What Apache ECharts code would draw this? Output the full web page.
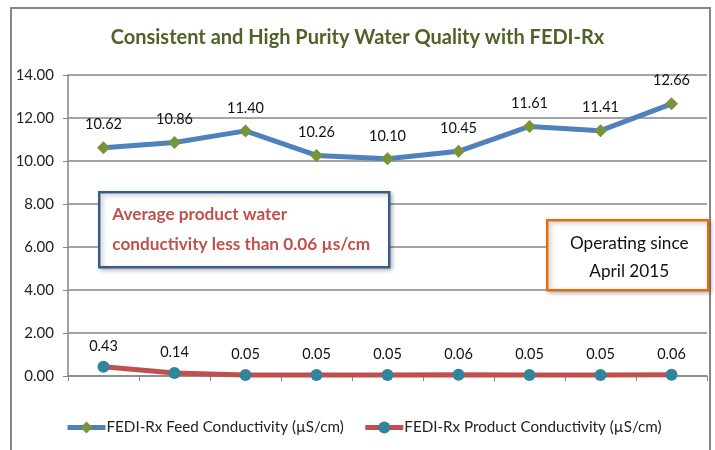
<!DOCTYPE html>
<html>
<head>
    <meta charset="utf-8">
    <script src="https://cdn.jsdelivr.net/npm/echarts@6/dist/echarts.min.js"></script>
    <style>
        html, body { margin: 0; padding: 0; background: #fff; }
    </style>
</head>
<body>
    <div id="main" style="width: 715px; height: 450px"></div>
    <script type="text/javascript">
        var categories = ['1', '2', '3', '4', '5', '6', '7', '8', '9'];
        var feedValues = [10.62, 10.86, 11.40, 10.26, 10.10, 10.45, 11.61, 11.41, 12.66];
        var productValues = [0.43, 0.14, 0.05, 0.05, 0.05, 0.06, 0.05, 0.05, 0.06];
        var yTicks = [0, 2, 4, 6, 8, 10, 12, 14];

        var font = 'Lato, "Open Sans", sans-serif';

        var myChart = echarts.init(document.getElementById('main'));
        var option = {
            animation: false,
            title: {
                text: 'Consistent and High Purity Water Quality with FEDI-Rx',
                left: 'center',
                top: 23,
                textStyle: {
                    fontFamily: font,
                    fontSize: 20,
                    fontWeight: 'bold',
                    color: '#4f6228'
                }
            },
            legend: {
                bottom: 10,
                left: 60,
                itemWidth: 38,
                itemHeight: 15,
                itemGap: 19,
                lineStyle: { width: 5 },
                textStyle: { fontFamily: font, fontSize: 15.2, color: '#222', padding: [0, 0, 0, -4] },
                data: ['FEDI-Rx Feed Conductivity (µS/cm)', 'FEDI-Rx Product Conductivity (µS/cm)']
            },
            grid: { left: 68, right: 8, top: 75, bottom: 74 },
            xAxis: {
                type: 'category',
                data: categories,
                boundaryGap: true,
                axisLine: { lineStyle: { color: '#868686', width: 1.5 } },
                axisTick: { show: true, length: 5, lineStyle: { color: '#868686' } },
                axisLabel: { show: false }
            },
            yAxis: {
                type: 'value',
                min: yTicks[0],
                max: yTicks[yTicks.length - 1],
                interval: 2,
                axisLine: { show: true, lineStyle: { color: '#868686', width: 1.5 } },
                axisTick: { show: true, length: 5, lineStyle: { color: '#868686' } },
                splitLine: { lineStyle: { color: '#868686', width: 1.5 } },
                axisLabel: {
                    margin: 14,
                    fontFamily: font,
                    fontSize: 15,
                    color: '#222',
                    formatter: function (v) { return v.toFixed(2); }
                }
            },
            series: [
                {
                    name: 'FEDI-Rx Feed Conductivity (µS/cm)',
                    type: 'line',
                    data: feedValues,
                    symbol: 'diamond',
                    symbolSize: 13,
                    itemStyle: { color: '#77933c' },
                    lineStyle: { color: '#4f81bd', width: 5 },
                    label: {
                        show: true,
                        position: 'top',
                        distance: 9,
                        fontFamily: font,
                        fontSize: 14.5,
                        color: '#111',
                        formatter: function (p) { return p.value.toFixed(2); }
                    }
                },
                {
                    name: 'FEDI-Rx Product Conductivity (µS/cm)',
                    type: 'line',
                    data: productValues,
                    symbol: 'circle',
                    symbolSize: 12,
                    itemStyle: { color: '#31849b' },
                    lineStyle: { color: '#c0504d', width: 5 },
                    label: {
                        show: true,
                        position: 'top',
                        distance: 7,
                        fontFamily: font,
                        fontSize: 14.5,
                        color: '#111',
                        formatter: function (p) { return p.value.toFixed(2); }
                    }
                }
            ],
            graphic: [
                {
                    type: 'rect',
                    z: 100,
                    shape: { x: 11, y: 8, width: 699, height: 460 },
                    style: { fill: 'none', stroke: '#868686', lineWidth: 2 },
                    silent: true
                },
                {
                    type: 'group',
                    z: 100,
                    left: 98, top: 191,
                    children: [
                        {
                            type: 'rect',
                            z: 100,
                            shape: { x: 0, y: 0, width: 290, height: 75 },
                            style: {
                                fill: '#fff', stroke: '#385d8a', lineWidth: 2.5,
                                shadowBlur: 4, shadowColor: 'rgba(0,0,0,0.25)', shadowOffsetX: 2, shadowOffsetY: 2
                            }
                        },
                        {
                            type: 'text',
                            z: 101,
                            x: 13, y: 7,
                            style: {
                                text: 'Average product water\nconductivity less than 0.06 µs/cm',
                                fontFamily: font, fontSize: 17.2, fontWeight: 'bold',
                                fill: '#c0504d', lineHeight: 30
                            }
                        }
                    ]
                },
                {
                    type: 'group',
                    z: 100,
                    left: 546, top: 219,
                    children: [
                        {
                            type: 'rect',
                            z: 100,
                            shape: { x: 0, y: 0, width: 161, height: 70 },
                            style: {
                                fill: '#fff', stroke: '#e46c0a', lineWidth: 2.5,
                                shadowBlur: 4, shadowColor: 'rgba(0,0,0,0.25)', shadowOffsetX: 2, shadowOffsetY: 2
                            }
                        },
                        {
                            type: 'text',
                            z: 101,
                            x: 82, y: 9,
                            style: {
                                text: 'Operating since\nApril 2015',
                                align: 'center',
                                fontFamily: font, fontSize: 17.2,
                                fill: '#111', lineHeight: 28
                            }
                        }
                    ]
                }
            ]
        };
        myChart.setOption(option);
    </script>
</body>
</html>
